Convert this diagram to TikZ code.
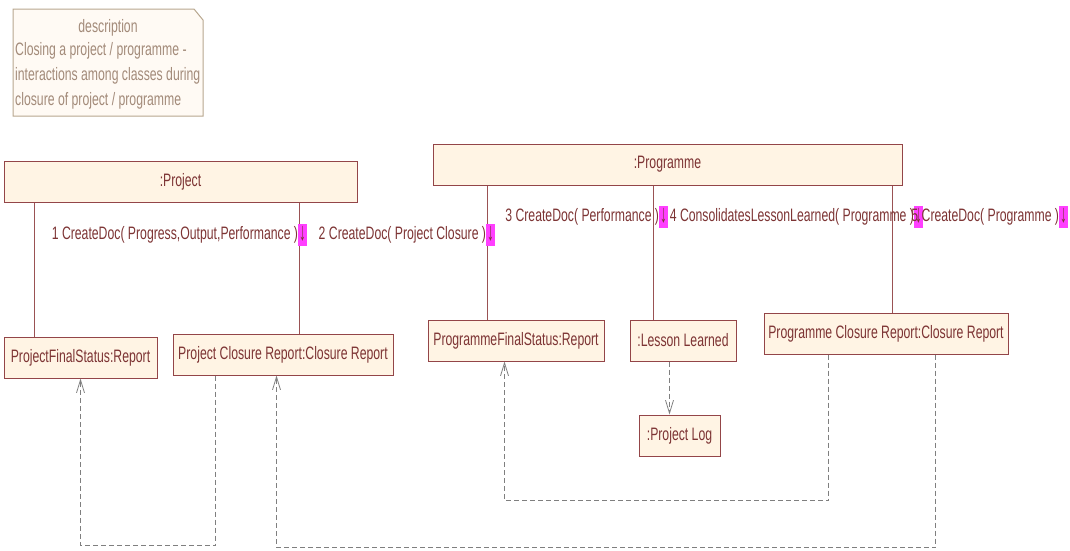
\documentclass[tikz,border=0pt]{standalone}
\usepackage{fontspec}
\setmainfont{Liberation Sans}[FakeStretch=0.68]
\usepackage{xcolor}
\usepackage{graphicx}
\usepackage{tikz}
\usetikzlibrary{positioning, arrows.meta}
\definecolor{objfill}{HTML}{FFF4E4}
\definecolor{objline}{HTML}{934548}
\definecolor{objtext}{HTML}{7D3434}
\definecolor{linkline}{HTML}{9A5254}
\definecolor{depgray}{HTML}{7F7F7F}
\definecolor{notefill}{HTML}{FFFAF4}
\definecolor{noteline}{HTML}{B8A78F}
\definecolor{notetext}{HTML}{A38B7A}
\definecolor{msgmark}{HTML}{FF3FFF}
\newcommand{\msgdown}{{\setlength{\fboxsep}{0pt}\colorbox{msgmark}{\strut\hspace{1pt}\textcolor{objtext}{\raisebox{-1pt}{\scalebox{1.1}[1.4]{↓}}}\hspace{1pt}}}}
\tikzstyle{object} = [rectangle, draw=objline, line width=1pt, fill=objfill, text=objtext, inner sep=0pt]
\tikzstyle{msg} = [text=objtext, inner sep=0pt, anchor=east]
\tikzstyle{link} = [draw=linkline, line width=1pt]
\tikzstyle{dep} = [draw=depgray, line width=0.8pt, dash pattern=on 5pt off 3pt, -{Straight Barb[length=13pt,width=8pt]}]
\tikzstyle{note} = [draw=noteline, line width=1pt, fill=notefill]

\begin{document}
\begin{tikzpicture}[x=1pt, y=-1pt, font=\fontsize{18}{22}\selectfont]
        \useasboundingbox (0,0) rectangle (1070,550);

        % description note
        \draw [note] (13,9) -- (194,9) -- (203,20) -- (203,116) -- (13,116) -- cycle;
        \node (desctitle) [text=notetext, inner sep=0pt] at (108,28) {description};
        \node (desctext) [text=notetext, inner sep=0pt, anchor=north west, align=left, font=\fontsize{18}{25}\selectfont] at (15,42) {Closing a project / programme -\\interactions among classes during\\closure of project / programme};

        % objects
        \node (proj) [object, minimum width=353, minimum height=41] at (180.5,181.5) {:Project};
        \node (prog) [object, minimum width=469, minimum height=41] at (667.5,164.5) {:Programme};
        \node (pfs) [object, minimum width=153, minimum height=41] at (80.5,357.5) {ProjectFinalStatus:Report};
        \node (pcr) [object, minimum width=220, minimum height=41] at (283,354.5) {Project Closure Report:Closure Report};
        \node (pgfs) [object, minimum width=176, minimum height=41] at (516,340.5) {ProgrammeFinalStatus:Report};
        \node (ll) [object, minimum width=106, minimum height=41] at (683,340.5) {:Lesson Learned};
        \node (prcr) [object, minimum width=244, minimum height=41] at (886,333.5) {Programme Closure Report:Closure Report};
        \node (plog) [object, minimum width=81, minimum height=41] at (679.5,435.5) {:Project Log};

        % links
        \draw [link] ([xshift=31pt]proj.south west) -- ([xshift=31pt]pfs.north west);
        \draw [link] ([xshift=296pt]proj.south west) -- ([xshift=127pt]pcr.north west);
        \draw [link] ([xshift=55pt]prog.south west) -- ([xshift=60pt]pgfs.north west);
        \draw [link] ([xshift=221pt]prog.south west) -- ([xshift=24pt]ll.north west);
        \draw [link] ([xshift=460pt]prog.south west) -- ([xshift=129pt]prcr.north west);

        % messages
        \node (m1) [msg] at (307,235) {1 CreateDoc( Progress,Output,Performance )\msgdown};
        \node (m2) [msg] at (495,235) {2 CreateDoc( Project Closure )\msgdown};
        \node (m3) [msg] at (668,217) {3 CreateDoc( Performance )\msgdown};
        \node (m4) [msg] at (923,217) {4 ConsolidatesLessonLearned( Programme )\msgdown};
        \node (m5) [msg] at (1068,217) {5 CreateDoc( Programme )\msgdown};

        % dependencies
        \draw [dep] ([xshift=43pt]pcr.south west) -- ++(0,170) -| (pfs.south);
        \draw [dep] ([xshift=172pt]prcr.south west) -- ++(0,193) -| ([xshift=104pt]pcr.south west);
        \draw [dep] ([xshift=65pt]prcr.south west) -- ++(0,146) -| ([xshift=77pt]pgfs.south west);
        \draw [dep] ([xshift=40pt]ll.south west) -- ([xshift=31pt]plog.north west);

\end{tikzpicture}
\end{document}
